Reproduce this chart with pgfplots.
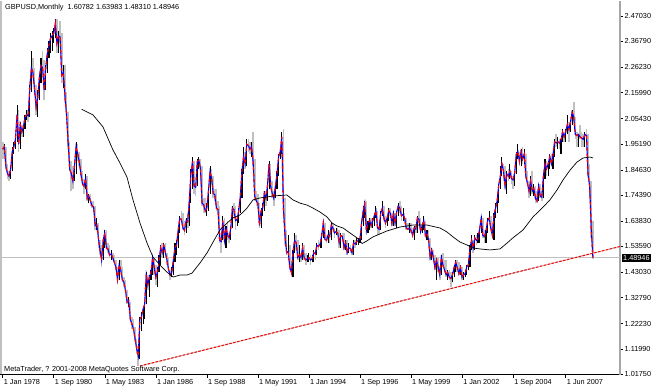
\documentclass[border=0pt]{standalone}
\usepackage{fontspec}
\setmainfont{Liberation Sans}
\usepackage{pgfplots}
\pgfplotsset{compat=1.18}
\usepackage{pgfplotstable}
\definecolor{mtgray}{RGB}{192,192,192}
\definecolor{mtblue}{RGB}{0,0,255}
\definecolor{mtred}{RGB}{255,0,0}
\newcommand{\mt}{\fontsize{7.3}{8.5}\selectfont}

\pgfplotstableread{
m hi lo cl u
0 1.96 1.89 1.93 0
1 1.95 1.91 1.94 1
2 1.94 1.85 1.86 0
3 1.87 1.81 1.83 0
4 1.84 1.80 1.82 0
5 1.86 1.81 1.85 1
6 1.94 1.84 1.92 1
7 1.96 1.91 1.94 1
8 1.98 1.93 1.97 1
9 2.11 1.96 2.07 1
10 2.09 1.92 1.95 0
11 2.04 1.93 2.03 1
12 2.03 1.98 2.00 0
13 2.03 1.98 2.02 1
14 2.07 2.01 2.06 1
15 2.09 2.05 2.07 1
16 2.09 2.04 2.065 0
17 2.19 2.06 2.18 1
18 2.33 2.16 2.26 1
19 2.30 2.22 2.24 0
20 2.26 2.15 2.17 0
21 2.19 2.07 2.10 0
22 2.17 2.06 2.14 1
23 2.23 2.13 2.22 1
24 2.30 2.20 2.27 1
25 2.33 2.24 2.26 0
26 2.29 2.13 2.17 0
27 2.27 2.17 2.26 1
28 2.34 2.24 2.32 1
29 2.37 2.30 2.35 1
30 2.40 2.32 2.38 1
31 2.41 2.33 2.39 1
32 2.42 2.36 2.40 1
33 2.46 2.38 2.44 1
34 2.46 2.32 2.36 0
35 2.41 2.32 2.39 1
36 2.45 2.36 2.385 0
37 2.40 2.20 2.23 0
38 2.27 2.18 2.24 1
39 2.27 2.12 2.15 0
40 2.16 2.05 2.07 0
41 2.08 1.94 1.96 0
42 1.96 1.84 1.85 0
43 1.88 1.76 1.83 0
44 1.86 1.77 1.80 0
45 1.87 1.80 1.86 1
46 1.96 1.83 1.94 1
47 1.95 1.88 1.91 0
48 1.92 1.86 1.88 0
49 1.89 1.82 1.83 0
50 1.84 1.78 1.79 0
51 1.81 1.75 1.78 0
52 1.83 1.77 1.81 1
53 1.82 1.72 1.73 0
54 1.75 1.71 1.74 1
55 1.75 1.70 1.72 0
56 1.72 1.69 1.70 0
57 1.72 1.68 1.695 0
58 1.70 1.60 1.62 0
59 1.65 1.60 1.625 1
60 1.63 1.53 1.57 0
61 1.56 1.50 1.52 0
62 1.54 1.45 1.48 0
63 1.57 1.48 1.56 1
64 1.60 1.53 1.59 1
65 1.60 1.52 1.53 0
66 1.55 1.51 1.525 0
67 1.54 1.49 1.50 0
68 1.52 1.48 1.505 1
69 1.51 1.48 1.49 0
70 1.50 1.46 1.47 0
71 1.48 1.44 1.45 0
72 1.45 1.39 1.40 0
73 1.48 1.40 1.46 1
74 1.48 1.43 1.44 0
75 1.45 1.39 1.40 0
76 1.41 1.37 1.39 0
77 1.40 1.35 1.355 0
78 1.36 1.30 1.31 0
79 1.33 1.29 1.315 1
80 1.31 1.23 1.24 0
81 1.25 1.20 1.22 0
82 1.24 1.19 1.20 0
83 1.21 1.15 1.16 0
84 1.16 1.10 1.12 0
85 1.13 1.05 1.09 0
86 1.25 1.08 1.24 1
87 1.27 1.19 1.25 1
88 1.29 1.22 1.28 1
89 1.31 1.24 1.30 1
90 1.43 1.30 1.42 1
91 1.42 1.36 1.38 0
92 1.42 1.33 1.41 1
93 1.44 1.40 1.43 1
94 1.50 1.42 1.49 1
95 1.49 1.42 1.45 0
96 1.46 1.38 1.41 0
97 1.45 1.37 1.43 1
98 1.50 1.43 1.47 1
99 1.54 1.46 1.53 1
100 1.55 1.49 1.51 0
101 1.55 1.49 1.54 1
102 1.55 1.49 1.51 0
103 1.51 1.46 1.48 0
104 1.49 1.43 1.44 0
105 1.44 1.40 1.42 0
106 1.45 1.41 1.43 1
107 1.49 1.42 1.48 1
108 1.55 1.47 1.53 1
109 1.56 1.50 1.54 1
110 1.61 1.53 1.60 1
111 1.66 1.59 1.65 1
112 1.68 1.63 1.645 0
113 1.67 1.60 1.61 0
114 1.64 1.58 1.60 0
115 1.65 1.59 1.64 1
116 1.67 1.61 1.635 0
117 1.75 1.62 1.72 1
118 1.85 1.71 1.83 1
119 1.90 1.77 1.88 1
120 1.88 1.75 1.78 0
121 1.79 1.74 1.775 0
122 1.89 1.78 1.88 1
123 1.90 1.85 1.885 1
124 1.89 1.84 1.85 0
125 1.86 1.70 1.71 0
126 1.73 1.67 1.705 0
127 1.73 1.67 1.68 0
128 1.71 1.66 1.69 1
129 1.77 1.68 1.76 1
130 1.86 1.75 1.84 1
131 1.85 1.79 1.81 0
132 1.82 1.73 1.75 0
133 1.77 1.72 1.745 0
134 1.77 1.68 1.69 0
135 1.72 1.67 1.685 0
136 1.70 1.55 1.56 0
137 1.59 1.51 1.555 0
138 1.66 1.56 1.64 1
139 1.65 1.55 1.56 0
140 1.62 1.53 1.61 1
141 1.64 1.56 1.58 0
142 1.59 1.55 1.57 0
143 1.62 1.56 1.61 1
144 1.70 1.61 1.69 1
145 1.71 1.66 1.685 0
146 1.70 1.60 1.64 0
147 1.66 1.62 1.645 1
148 1.69 1.63 1.68 1
149 1.75 1.67 1.74 1
150 1.85 1.73 1.84 1
151 1.94 1.83 1.90 1
152 1.92 1.85 1.87 0
153 1.97 1.86 1.95 1
154 1.97 1.92 1.945 0
155 1.96 1.91 1.93 0
156 1.96 1.90 1.94 1
157 2.00 1.86 1.88 0
158 1.89 1.72 1.74 0
159 1.76 1.70 1.72 0
160 1.75 1.69 1.71 0
161 1.71 1.61 1.62 0
162 1.69 1.61 1.68 1
163 1.71 1.66 1.69 1
164 1.76 1.68 1.75 1
165 1.76 1.70 1.73 0
166 1.80 1.72 1.78 1
167 1.88 1.77 1.87 1
168 1.87 1.77 1.78 0
169 1.80 1.73 1.75 0
170 1.76 1.70 1.73 0
171 1.79 1.73 1.78 1
172 1.84 1.77 1.83 1
173 1.91 1.82 1.90 1
174 1.93 1.89 1.92 1
175 2.00 1.91 1.98 1
176 2.01 1.67 1.69 0
177 1.73 1.54 1.58 0
178 1.60 1.50 1.51 0
179 1.58 1.50 1.515 1
180 1.54 1.44 1.45 0
181 1.47 1.41 1.43 0
182 1.52 1.41 1.51 1
183 1.59 1.51 1.56 1
184 1.58 1.52 1.55 0
185 1.56 1.48 1.49 0
186 1.54 1.47 1.50 1
187 1.51 1.47 1.49 0
188 1.55 1.48 1.53 1
189 1.54 1.48 1.49 0
190 1.51 1.46 1.48 0
191 1.50 1.47 1.485 1
192 1.51 1.47 1.49 1
193 1.50 1.46 1.48 0
194 1.50 1.47 1.485 1
195 1.52 1.47 1.51 1
196 1.52 1.48 1.505 0
197 1.55 1.50 1.54 1
198 1.56 1.52 1.535 0
199 1.56 1.53 1.545 1
200 1.59 1.53 1.58 1
201 1.64 1.57 1.63 1
202 1.63 1.56 1.565 0
203 1.58 1.55 1.56 0
204 1.60 1.55 1.58 1
205 1.59 1.55 1.575 0
206 1.63 1.56 1.62 1
207 1.63 1.60 1.61 0
208 1.61 1.57 1.59 0
209 1.61 1.58 1.595 1
210 1.61 1.58 1.59 0
211 1.60 1.53 1.55 0
212 1.59 1.53 1.58 1
213 1.59 1.56 1.575 0
214 1.59 1.52 1.53 0
215 1.56 1.52 1.55 1
216 1.56 1.50 1.51 0
217 1.55 1.51 1.53 1
218 1.54 1.51 1.525 0
219 1.53 1.50 1.51 0
220 1.56 1.50 1.55 1
221 1.56 1.53 1.545 0
222 1.57 1.54 1.555 1
223 1.57 1.54 1.56 1
224 1.57 1.55 1.565 1
225 1.64 1.56 1.63 1
226 1.70 1.62 1.68 1
227 1.72 1.65 1.71 1
228 1.72 1.58 1.60 0
229 1.64 1.59 1.63 1
230 1.65 1.60 1.64 1
231 1.65 1.61 1.62 0
232 1.65 1.61 1.64 1
233 1.67 1.62 1.66 1
234 1.70 1.65 1.68 1
235 1.68 1.58 1.61 0
236 1.62 1.58 1.605 0
237 1.68 1.60 1.67 1
238 1.72 1.66 1.69 1
239 1.70 1.64 1.65 0
240 1.66 1.61 1.63 0
241 1.66 1.62 1.65 1
242 1.69 1.64 1.68 1
243 1.69 1.66 1.67 0
244 1.67 1.62 1.63 0
245 1.68 1.62 1.67 1
246 1.67 1.62 1.63 0
247 1.68 1.61 1.675 1
248 1.71 1.66 1.70 1
249 1.72 1.67 1.69 0
250 1.70 1.64 1.66 0
251 1.69 1.64 1.665 1
252 1.67 1.63 1.65 0
253 1.65 1.60 1.61 0
254 1.63 1.60 1.605 0
255 1.63 1.59 1.61 1
256 1.63 1.59 1.60 0
257 1.61 1.57 1.58 0
258 1.62 1.56 1.61 1
259 1.62 1.59 1.605 0
260 1.66 1.59 1.65 1
261 1.68 1.63 1.645 0
262 1.65 1.59 1.595 0
263 1.63 1.59 1.62 1
264 1.66 1.60 1.64 1
265 1.64 1.57 1.58 0
266 1.60 1.56 1.59 1
267 1.60 1.55 1.56 0
268 1.57 1.48 1.49 0
269 1.53 1.48 1.52 1
270 1.52 1.48 1.49 0
271 1.50 1.44 1.45 0
272 1.49 1.40 1.48 1
273 1.49 1.43 1.45 0
274 1.45 1.40 1.42 0
275 1.50 1.42 1.49 1
276 1.51 1.45 1.46 0
277 1.48 1.43 1.44 0
278 1.48 1.41 1.42 0
279 1.44 1.40 1.43 1
280 1.44 1.40 1.41 0
281 1.43 1.37 1.405 0
282 1.43 1.39 1.42 1
283 1.46 1.41 1.45 1
284 1.48 1.43 1.47 1
285 1.48 1.43 1.45 0
286 1.47 1.42 1.425 0
287 1.46 1.42 1.45 1
288 1.45 1.40 1.41 0
289 1.43 1.40 1.42 1
290 1.44 1.41 1.425 1
291 1.46 1.42 1.455 1
292 1.48 1.44 1.46 1
293 1.54 1.45 1.53 1
294 1.58 1.52 1.56 1
295 1.56 1.51 1.53 0
296 1.58 1.52 1.57 1
297 1.58 1.54 1.56 0
298 1.59 1.55 1.565 1
299 1.61 1.55 1.605 1
300 1.66 1.59 1.65 1
301 1.65 1.57 1.58 0
302 1.60 1.55 1.575 0
303 1.60 1.55 1.595 1
304 1.65 1.59 1.64 1
305 1.68 1.64 1.65 1
306 1.66 1.60 1.61 0
307 1.63 1.57 1.58 0
308 1.67 1.56 1.66 1
309 1.71 1.65 1.69 1
310 1.73 1.67 1.72 1
311 1.79 1.71 1.785 1
312 1.86 1.77 1.82 1
313 1.90 1.82 1.87 1
314 1.87 1.80 1.84 0
315 1.86 1.77 1.78 0
316 1.84 1.75 1.83 1
317 1.85 1.80 1.82 0
318 1.87 1.81 1.84 1
319 1.84 1.79 1.81 0
320 1.82 1.77 1.805 0
321 1.84 1.78 1.835 1
322 1.92 1.83 1.91 1
323 1.95 1.89 1.92 1
324 1.92 1.86 1.88 0
325 1.93 1.86 1.92 1
326 1.94 1.87 1.89 0
327 1.93 1.87 1.91 1
328 1.91 1.81 1.82 0
329 1.84 1.78 1.79 0
330 1.80 1.73 1.76 0
331 1.82 1.74 1.80 1
332 1.84 1.75 1.76 0
333 1.79 1.74 1.77 1
334 1.78 1.71 1.73 0
335 1.76 1.71 1.72 0
336 1.79 1.72 1.78 1
337 1.79 1.73 1.74 0
338 1.76 1.72 1.735 0
339 1.83 1.73 1.82 1
340 1.89 1.81 1.87 1
341 1.88 1.82 1.85 0
342 1.88 1.82 1.87 1
343 1.91 1.85 1.90 1
344 1.91 1.86 1.87 0
345 1.91 1.85 1.905 1
346 1.97 1.90 1.96 1
347 1.99 1.94 1.955 0
348 1.98 1.93 1.96 1
349 1.97 1.93 1.955 0
350 1.97 1.91 1.965 1
351 2.01 1.96 2.00 1
352 2.00 1.96 1.98 0
353 2.01 1.96 2.00 1
354 2.07 1.99 2.03 1
355 2.04 1.96 2.01 0
356 2.05 2.00 2.04 1
357 2.09 2.03 2.08 1
358 2.12 2.04 2.06 0
359 2.06 1.97 1.99 0
360 2.00 1.94 1.985 0
361 1.99 1.94 1.99 1
362 2.03 1.97 1.98 0
363 2.00 1.94 1.975 0
364 1.99 1.94 1.97 0
365 2.00 1.94 1.99 1
366 2.01 1.97 1.985 0
367 1.99 1.82 1.825 0
368 1.87 1.73 1.78 0
369 1.80 1.57 1.61 0
370 1.63983 1.48310 1.48946 0
}\bars

\pgfplotstableread{
m ma
49.5 2.092
56.6 2.069
62.9 2.020
69.1 1.927
73.5 1.874
77.9 1.817
81.7 1.724
86.1 1.630
90.5 1.549
94.2 1.492
98.6 1.460
103.0 1.431
106.8 1.411
111.2 1.419
115.5 1.419
118.7 1.427
123.7 1.468
128.1 1.509
131.9 1.553
136.2 1.602
140.6 1.630
144.4 1.651
148.8 1.663
153.2 1.691
156.9 1.724
161.3 1.732
165.7 1.736
169.5 1.740
178.2 1.744
182.0 1.724
186.4 1.711
190.8 1.703
194.5 1.691
198.9 1.675
203.3 1.655
206.5 1.630
209.6 1.618
213.4 1.610
217.7 1.590
222.1 1.570
225.3 1.547
228.0 1.556
232.2 1.574
240.9 1.598
249.1 1.614
257.2 1.622
266.0 1.622
274.2 1.610
278.5 1.594
282.3 1.574
286.7 1.553
291.1 1.541
294.8 1.529
299.2 1.525
305.5 1.521
311.8 1.525
316.2 1.549
319.9 1.570
326.2 1.602
332.5 1.655
338.8 1.695
343.1 1.724
347.5 1.764
351.3 1.805
355.7 1.845
360.1 1.878
363.8 1.894
368.2 1.898
370.1 1.894
}\slowma

\begin{document}
\begin{tikzpicture}[x=1pt,y=1pt]
\path[use as bounding box] (0,0) rectangle (651,390);
\begin{axis}[
  at={(2pt,15pt)}, anchor=south west,
  scale only axis, width=618pt, height=374pt,
  xmin=-0.44, xmax=387.02, ymin=1.01344, ymax=2.53129,
  clip=false,
  axis line style={draw=none},
  xtick pos=left, ytick pos=right, yticklabel pos=right,
  tick align=outside, major tick length=3pt,
  tick style={black, line width=0.5pt},
  ytick={1.0175,1.1199,1.2223,1.3279,1.4303,1.5359,1.6383,1.7439,1.8463,1.9519,2.0543,2.1599,2.2623,2.3679,2.4703},
  yticklabels={1.01750,1.11990,1.22230,1.32790,1.43030,1.53590,1.63830,1.74390,1.84630,1.95190,2.05430,2.15990,2.26230,2.36790,2.47030},
  xtick={0,32,64,96,128,160,192,224,256,288,320,353},
  xticklabels={1 Jan 1978,1 Sep 1980,1 May 1983,1 Jan 1986,1 Sep 1988,1 May 1991,1 Jan 1994,1 Sep 1996,1 May 1999,1 Jan 2002,1 Sep 2004,1 Jun 2007},
  yticklabel style={font=\mt, anchor=west, inner xsep=1.5pt, inner ysep=0pt},
  xticklabel style={font=\mt, anchor=north west, inner xsep=1pt, inner ysep=1pt},
]
% frame
\draw[mtgray, line width=2pt] ([xshift=-1pt]rel axis cs:0,0) -- ([xshift=-1pt]rel axis cs:0,1);
\draw[black, line width=1pt] ([xshift=-2pt]rel axis cs:0,0) -- (rel axis cs:1,0);
\draw[gray!70, line width=1.5pt] (rel axis cs:1,0) -- (rel axis cs:1,1);

% current price line
\addplot[mtgray, line width=1pt, forget plot] coordinates {(-0.44,1.48946) (387.02,1.48946)};

% down bars (gray)
\addplot[draw=none, mark=none, forget plot,
  y filter/.expression={\thisrow{u}>0.5 ? nan : y},
  error bars/.cd, y dir=plus, y explicit, error mark=none,
  error bar style={draw=mtgray, line width=1.6pt, solid}]
  table[x=m, y=lo, y error expr=\thisrow{hi}-\thisrow{lo}] {\bars};
% up bars (black)
\addplot[draw=none, mark=none, forget plot,
  y filter/.expression={\thisrow{u}>0.5 ? y : nan},
  error bars/.cd, y dir=plus, y explicit, error mark=none,
  error bar style={draw=black, line width=1.1pt, solid}]
  table[x=m, y=lo, y error expr=\thisrow{hi}-\thisrow{lo}] {\bars};

% fast averages (blue / red)
\addplot[mtblue, line width=1.1pt, mark=none, forget plot] table[x=m, y=cl] {\bars};
\addplot[mtred, line width=1.1pt, mark=none, dash pattern=on 3pt off 3pt, forget plot] table[x=m, y=cl] {\bars};

% slow average
\addplot[black, line width=0.7pt, mark=none, forget plot] table[x=m, y=ma] {\slowma};

% trend line
\addplot[mtgray, line width=1pt, forget plot] coordinates {(86.1,1.050) (387.02,1.535)};
\addplot[mtred, line width=1pt, dash pattern=on 2.5pt off 1.5pt, forget plot] coordinates {(86.1,1.050) (387.02,1.535)};

% texts
\node[anchor=north west, font=\mt, inner sep=0pt] at ([xshift=3pt,yshift=-3pt]rel axis cs:0,1) {GBPUSD,Monthly\ \ 1.60782 1.63983 1.48310 1.48946};
\node[anchor=south west, font=\mt, inner sep=0pt] at ([xshift=2pt,yshift=1.5pt]rel axis cs:0,0) {MetaTrader, ? 2001-2008 MetaQuotes Software Corp.};
\node[anchor=west, fill=black, text=white, font=\mt, inner xsep=1pt, inner ysep=1.5pt] at ([xshift=2pt]axis cs:387.02,1.48946) {1.48946};
\end{axis}
\end{tikzpicture}
\end{document}
